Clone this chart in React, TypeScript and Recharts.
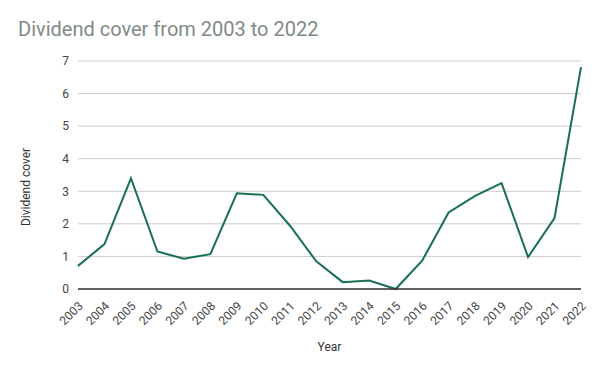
import React from 'react';
import { LineChart, CartesianGrid, XAxis, YAxis, Line, Label } from 'recharts';

const years = [
  '2003', '2004', '2005', '2006', '2007', '2008', '2009', '2010', '2011', '2012',
  '2013', '2014', '2015', '2016', '2017', '2018', '2019', '2020', '2021', '2022',
];
const dividendCover = [
  0.71, 1.38, 3.4, 1.15, 0.93, 1.07, 2.94, 2.89, 1.95, 0.85,
  0.21, 0.26, 0.0, 0.87, 2.35, 2.86, 3.25, 0.98, 2.18, 6.81,
];
const yTicks = [0, 1, 2, 3, 4, 5, 6, 7];

const data = years.map((year, i) => ({ year, cover: dividendCover[i] }));

const FONT = 'Roboto, Arial, sans-serif';

const YearTick: React.FC<any> = ({ x, y, payload }) => (
  <g transform={`translate(${x},${y + 4})`}>
    <text
      x={0}
      y={0}
      dy={8}
      textAnchor="end"
      fill="#444"
      fontSize={12}
      fontFamily={FONT}
      transform="rotate(-45)"
    >
      {payload.value}
    </text>
  </g>
);

const YLabel: React.FC<any> = ({ viewBox }) => {
  const cx = 30;
  const cy = viewBox.y + viewBox.height / 2 + 12;
  return (
    <text
      x={cx}
      y={cy}
      transform={`rotate(-90, ${cx}, ${cy})`}
      textAnchor="middle"
      fill="#333"
      fontSize={12}
      fontFamily={FONT}
    >
      Dividend cover
    </text>
  );
};

const App: React.FC = () => {
  return (
    <div style={{ width: 600, height: 371, position: 'relative', background: '#fff', margin: -8 }}>
      <div
        style={{
          position: 'absolute',
          left: 18,
          top: 17,
          fontFamily: FONT,
          fontSize: 20,
          color: '#808a86',
        }}
      >
        Dividend cover from 2003 to 2022
      </div>
      <LineChart width={600} height={371} data={data} margin={{ top: 61, right: 19, left: 0, bottom: 0 }}>
        <CartesianGrid horizontal vertical={false} stroke="#cccccc" />
        <XAxis
          dataKey="year"
          height={82}
          interval={0}
          tick={<YearTick />}
          tickLine={false}
          axisLine={{ stroke: '#333', strokeWidth: 1.5 }}
        >
          <Label value="Year" position="insideBottom" offset={20} fill="#333" fontSize={12} fontFamily={FONT} />
        </XAxis>
        <YAxis
          width={78}
          domain={[0, 7]}
          ticks={yTicks}
          interval={0}
          axisLine={false}
          tickLine={false}
          tickMargin={3}
          tick={{ fill: '#444', fontSize: 12, fontFamily: FONT }}
        >
          <Label content={<YLabel />} />
        </YAxis>
        <Line
          type="linear"
          dataKey="cover"
          stroke="#18704f"
          strokeWidth={2}
          dot={false}
          isAnimationActive={false}
        />
      </LineChart>
    </div>
  );
};

export default App;
